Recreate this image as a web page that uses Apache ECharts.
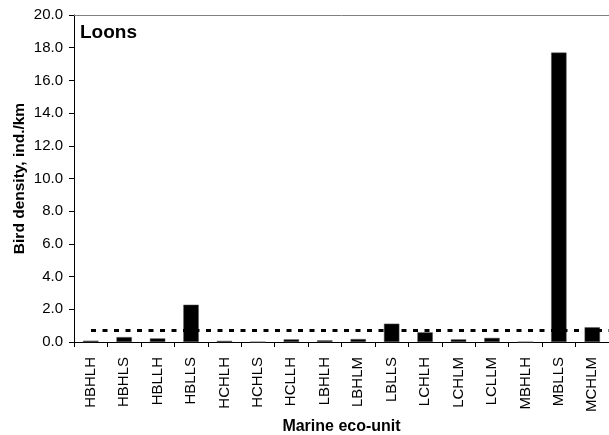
<!DOCTYPE html>
<html>
<head>
<meta charset="utf-8">
<script src="https://cdn.jsdelivr.net/npm/echarts@6/dist/echarts.min.js"></script>
<style>
  html, body { margin: 0; padding: 0; background: #fff; }
  #chart { width: 609px; height: 435px; }
</style>
</head>
<body>
<div id="chart"></div>
<script>
// Loon density per marine eco-unit
const units = ['HBHLH','HBHLS','HBLLH','HBLLS','HCHLH','HCHLS','HCLLH','LBHLH','LBHLM','LBLLS','LCHLH','LCHLM','LCLLM','MBHLH','MBLLS','MCHLM'];
const density = [0.08, 0.30, 0.22, 2.28, 0.07, 0.0, 0.16, 0.10, 0.18, 1.12, 0.59, 0.16, 0.25, 0.0, 17.7, 0.90];
const meanDensity = 0.73;
const yTicks = { min: 0, max: 20, step: 2 };

const chart = echarts.init(document.getElementById('chart'), null, { renderer: 'canvas' });
const font = 'Arial, "Liberation Sans", Helvetica, sans-serif';

chart.setOption({
  animation: false,
  backgroundColor: '#fff',
  title: {
    text: 'Loons',
    left: 80, top: 23, padding: 0,
    textStyle: { fontFamily: font, fontSize: 19, fontWeight: 'bold', color: '#000' }
  },
  grid: { left: 74, right: 0, top: 15, bottom: 93, containLabel: false, outerBoundsMode: 'none' },
  xAxis: [{
    type: 'category',
    data: units,
    name: 'Marine eco-unit',
    nameLocation: 'middle',
    nameGap: 77,
    nameMoveOverlap: false,
    nameTextStyle: { fontFamily: font, fontSize: 16, fontWeight: 'bold', color: '#000' },
    axisLine: { lineStyle: { color: '#000', width: 1 } },
    axisTick: { show: true, length: 5, alignWithLabel: false, lineStyle: { color: '#000' } },
    axisLabel: { rotate: 90, interval: 0, margin: 15, fontFamily: font, fontSize: 15, color: '#000' },
    splitLine: { show: false }
  }, {
    type: 'category',
    position: 'top',
    data: units,
    axisLine: { lineStyle: { color: '#808080', width: 1 } },
    axisTick: { show: false },
    axisLabel: { show: false }
  }],
  yAxis: {
    type: 'value',
    min: yTicks.min, max: yTicks.max, interval: yTicks.step,
    name: 'Bird density, ind./km',
    nameLocation: 'middle',
    nameGap: 46,
    nameMoveOverlap: false,
    nameRotate: 90,
    nameTextStyle: { fontFamily: font, fontSize: 15.5, fontWeight: 'bold', color: '#000' },
    axisLine: { show: true, lineStyle: { color: '#000', width: 1 } },
    axisTick: { show: true, length: 5, lineStyle: { color: '#000' } },
    axisLabel: { margin: 11, fontFamily: font, fontSize: 15, color: '#000',
      formatter: v => v.toFixed(1) },
    splitLine: { show: false }
  },
  series: [{
    type: 'bar',
    data: density,
    barWidth: '46%',
    itemStyle: { color: '#000', borderColor: '#555', borderWidth: 0.5 },
    markLine: {
      silent: true,
      symbol: 'none',
      label: { show: false },
      lineStyle: { color: '#000', width: 3, type: [5, 6.5] },
      data: [[{ xAxis: 0, yAxis: meanDensity, x: 91 }, { xAxis: units.length - 1, yAxis: meanDensity, x: 609 }]]
    }
  }]
});
</script>
</body>
</html>
